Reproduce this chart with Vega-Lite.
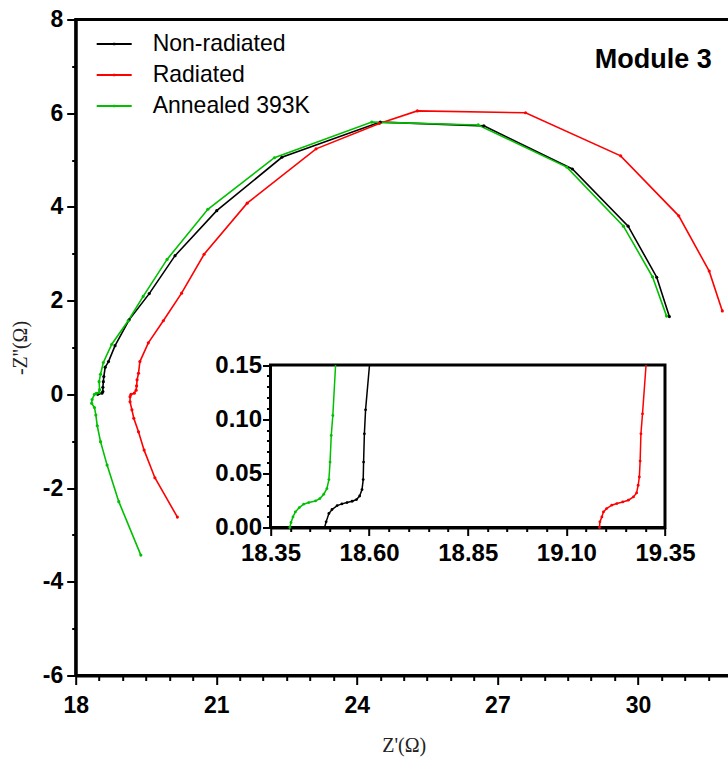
{
  "$schema": "https://vega.github.io/schema/vega-lite/v6.json",
  "width": 656,
  "height": 656,
  "autosize": {"type": "none"},
  "padding": {"left": 75.7, "top": 19.5, "right": 0, "bottom": 81.5},
  "background": "white",
  "title": {
    "text": "Module 3",
    "anchor": "end",
    "orient": "top",
    "frame": "group",
    "baseline": "top",
    "offset": 0,
    "dx": -20,
    "dy": 65,
    "font": "Liberation Sans",
    "fontSize": 27,
    "fontWeight": "bold",
    "color": "black"
  },
  "config": {
    "view": {"stroke": "black", "strokeWidth": 3},
    "axis": {"grid": false, "domainColor": "black", "tickColor": "black", "labelColor": "black", "labelOverlap": false, "labelFlush": false}
  },
  "datasets": {
    "main": [
      {"s": "Non-radiated", "i": 1, "x": 18.47, "y": 0.0},
      {"s": "Non-radiated", "i": 2, "x": 18.5, "y": 0.02},
      {"s": "Non-radiated", "i": 3, "x": 18.56, "y": 0.025},
      {"s": "Non-radiated", "i": 4, "x": 18.58, "y": 0.06},
      {"s": "Non-radiated", "i": 5, "x": 18.58, "y": 0.15},
      {"s": "Non-radiated", "i": 6, "x": 18.59, "y": 0.27},
      {"s": "Non-radiated", "i": 7, "x": 18.6, "y": 0.38},
      {"s": "Non-radiated", "i": 8, "x": 18.63, "y": 0.58},
      {"s": "Non-radiated", "i": 9, "x": 18.7, "y": 0.7},
      {"s": "Non-radiated", "i": 10, "x": 18.84, "y": 1.04},
      {"s": "Non-radiated", "i": 11, "x": 19.14, "y": 1.59},
      {"s": "Non-radiated", "i": 12, "x": 19.57, "y": 2.15},
      {"s": "Non-radiated", "i": 13, "x": 20.12, "y": 2.96},
      {"s": "Non-radiated", "i": 14, "x": 21.01, "y": 3.92},
      {"s": "Non-radiated", "i": 15, "x": 22.4, "y": 5.06},
      {"s": "Non-radiated", "i": 16, "x": 24.5, "y": 5.81},
      {"s": "Non-radiated", "i": 17, "x": 26.71, "y": 5.73},
      {"s": "Non-radiated", "i": 18, "x": 28.6, "y": 4.81},
      {"s": "Non-radiated", "i": 19, "x": 29.79, "y": 3.59},
      {"s": "Non-radiated", "i": 20, "x": 30.4, "y": 2.5},
      {"s": "Non-radiated", "i": 21, "x": 30.67, "y": 1.66},

      {"s": "Radiated", "i": 1, "x": 20.17, "y": -2.62},
      {"s": "Radiated", "i": 2, "x": 19.69, "y": -1.78},
      {"s": "Radiated", "i": 3, "x": 19.46, "y": -1.19},
      {"s": "Radiated", "i": 4, "x": 19.34, "y": -0.8},
      {"s": "Radiated", "i": 5, "x": 19.24, "y": -0.51},
      {"s": "Radiated", "i": 6, "x": 19.2, "y": -0.33},
      {"s": "Radiated", "i": 7, "x": 19.16, "y": -0.16},
      {"s": "Radiated", "i": 8, "x": 19.16, "y": -0.05},
      {"s": "Radiated", "i": 9, "x": 19.18, "y": 0.0},
      {"s": "Radiated", "i": 10, "x": 19.25, "y": 0.025},
      {"s": "Radiated", "i": 11, "x": 19.29, "y": 0.09},
      {"s": "Radiated", "i": 12, "x": 19.3, "y": 0.18},
      {"s": "Radiated", "i": 13, "x": 19.31, "y": 0.31},
      {"s": "Radiated", "i": 14, "x": 19.34, "y": 0.45},
      {"s": "Radiated", "i": 15, "x": 19.37, "y": 0.7},
      {"s": "Radiated", "i": 16, "x": 19.55, "y": 1.1},
      {"s": "Radiated", "i": 17, "x": 19.87, "y": 1.57},
      {"s": "Radiated", "i": 18, "x": 20.26, "y": 2.16},
      {"s": "Radiated", "i": 19, "x": 20.74, "y": 2.99},
      {"s": "Radiated", "i": 20, "x": 21.66, "y": 4.08},
      {"s": "Radiated", "i": 21, "x": 23.13, "y": 5.24},
      {"s": "Radiated", "i": 22, "x": 24.48, "y": 5.78},
      {"s": "Radiated", "i": 23, "x": 25.29, "y": 6.05},
      {"s": "Radiated", "i": 24, "x": 27.6, "y": 6.01},
      {"s": "Radiated", "i": 25, "x": 29.63, "y": 5.09},
      {"s": "Radiated", "i": 26, "x": 30.87, "y": 3.81},
      {"s": "Radiated", "i": 27, "x": 31.52, "y": 2.63},
      {"s": "Radiated", "i": 28, "x": 31.8, "y": 1.78},

      {"s": "Annealed 393K", "i": 1, "x": 19.39, "y": -3.43},
      {"s": "Annealed 393K", "i": 2, "x": 18.92, "y": -2.29},
      {"s": "Annealed 393K", "i": 3, "x": 18.67, "y": -1.51},
      {"s": "Annealed 393K", "i": 4, "x": 18.53, "y": -1.01},
      {"s": "Annealed 393K", "i": 5, "x": 18.46, "y": -0.67},
      {"s": "Annealed 393K", "i": 6, "x": 18.43, "y": -0.44},
      {"s": "Annealed 393K", "i": 7, "x": 18.4, "y": -0.28},
      {"s": "Annealed 393K", "i": 8, "x": 18.34, "y": -0.19},
      {"s": "Annealed 393K", "i": 9, "x": 18.35, "y": -0.11},
      {"s": "Annealed 393K", "i": 10, "x": 18.4, "y": 0.0},
      {"s": "Annealed 393K", "i": 11, "x": 18.44, "y": 0.02},
      {"s": "Annealed 393K", "i": 12, "x": 18.5, "y": 0.04},
      {"s": "Annealed 393K", "i": 13, "x": 18.51, "y": 0.1},
      {"s": "Annealed 393K", "i": 14, "x": 18.5, "y": 0.27},
      {"s": "Annealed 393K", "i": 15, "x": 18.53, "y": 0.43},
      {"s": "Annealed 393K", "i": 16, "x": 18.59, "y": 0.68},
      {"s": "Annealed 393K", "i": 17, "x": 18.77, "y": 1.07},
      {"s": "Annealed 393K", "i": 18, "x": 19.12, "y": 1.57},
      {"s": "Annealed 393K", "i": 19, "x": 19.44, "y": 2.09},
      {"s": "Annealed 393K", "i": 20, "x": 19.95, "y": 2.88},
      {"s": "Annealed 393K", "i": 21, "x": 20.82, "y": 3.95},
      {"s": "Annealed 393K", "i": 22, "x": 22.24, "y": 5.05},
      {"s": "Annealed 393K", "i": 23, "x": 24.32, "y": 5.81},
      {"s": "Annealed 393K", "i": 24, "x": 26.59, "y": 5.75},
      {"s": "Annealed 393K", "i": 25, "x": 28.48, "y": 4.85},
      {"s": "Annealed 393K", "i": 26, "x": 29.69, "y": 3.59},
      {"s": "Annealed 393K", "i": 27, "x": 30.31, "y": 2.51},
      {"s": "Annealed 393K", "i": 28, "x": 30.61, "y": 1.67}
    ],
    "inset": [
      {"s": "Annealed 393K", "i": 1, "x": 18.399, "y": 0.0},
      {"s": "Annealed 393K", "i": 2, "x": 18.402, "y": 0.0046},
      {"s": "Annealed 393K", "i": 3, "x": 18.407, "y": 0.0098},
      {"s": "Annealed 393K", "i": 4, "x": 18.413, "y": 0.0144},
      {"s": "Annealed 393K", "i": 5, "x": 18.423, "y": 0.0184},
      {"s": "Annealed 393K", "i": 6, "x": 18.434, "y": 0.0215},
      {"s": "Annealed 393K", "i": 7, "x": 18.447, "y": 0.023},
      {"s": "Annealed 393K", "i": 8, "x": 18.464, "y": 0.0245},
      {"s": "Annealed 393K", "i": 9, "x": 18.475, "y": 0.0267},
      {"s": "Annealed 393K", "i": 10, "x": 18.485, "y": 0.0307},
      {"s": "Annealed 393K", "i": 11, "x": 18.493, "y": 0.0359},
      {"s": "Annealed 393K", "i": 12, "x": 18.498, "y": 0.0442},
      {"s": "Annealed 393K", "i": 13, "x": 18.501, "y": 0.0604},
      {"s": "Annealed 393K", "i": 14, "x": 18.504, "y": 0.085},
      {"s": "Annealed 393K", "i": 15, "x": 18.508, "y": 0.1034},
      {"s": "Annealed 393K", "i": 16, "x": 18.515, "y": 0.15},

      {"s": "Non-radiated", "i": 1, "x": 18.487, "y": 0.0},
      {"s": "Non-radiated", "i": 2, "x": 18.491, "y": 0.0052},
      {"s": "Non-radiated", "i": 3, "x": 18.498, "y": 0.0129},
      {"s": "Non-radiated", "i": 4, "x": 18.506, "y": 0.0166},
      {"s": "Non-radiated", "i": 5, "x": 18.519, "y": 0.0202},
      {"s": "Non-radiated", "i": 6, "x": 18.531, "y": 0.0218},
      {"s": "Non-radiated", "i": 7, "x": 18.544, "y": 0.023},
      {"s": "Non-radiated", "i": 8, "x": 18.557, "y": 0.0242},
      {"s": "Non-radiated", "i": 9, "x": 18.568, "y": 0.0258},
      {"s": "Non-radiated", "i": 10, "x": 18.576, "y": 0.0291},
      {"s": "Non-radiated", "i": 11, "x": 18.582, "y": 0.035},
      {"s": "Non-radiated", "i": 12, "x": 18.585, "y": 0.0442},
      {"s": "Non-radiated", "i": 13, "x": 18.586, "y": 0.0604},
      {"s": "Non-radiated", "i": 14, "x": 18.588, "y": 0.0865},
      {"s": "Non-radiated", "i": 15, "x": 18.591, "y": 0.1086},
      {"s": "Non-radiated", "i": 16, "x": 18.601, "y": 0.15},

      {"s": "Radiated", "i": 1, "x": 19.184, "y": 0.0},
      {"s": "Radiated", "i": 2, "x": 19.185, "y": 0.0052},
      {"s": "Radiated", "i": 3, "x": 19.19, "y": 0.0098},
      {"s": "Radiated", "i": 4, "x": 19.194, "y": 0.0144},
      {"s": "Radiated", "i": 5, "x": 19.202, "y": 0.0175},
      {"s": "Radiated", "i": 6, "x": 19.215, "y": 0.0206},
      {"s": "Radiated", "i": 7, "x": 19.228, "y": 0.0221},
      {"s": "Radiated", "i": 8, "x": 19.243, "y": 0.0236},
      {"s": "Radiated", "i": 9, "x": 19.257, "y": 0.0252},
      {"s": "Radiated", "i": 10, "x": 19.27, "y": 0.0282},
      {"s": "Radiated", "i": 11, "x": 19.278, "y": 0.0319},
      {"s": "Radiated", "i": 12, "x": 19.282, "y": 0.039},
      {"s": "Radiated", "i": 13, "x": 19.285, "y": 0.0466},
      {"s": "Radiated", "i": 14, "x": 19.287, "y": 0.0613},
      {"s": "Radiated", "i": 15, "x": 19.289, "y": 0.0865},
      {"s": "Radiated", "i": 16, "x": 19.293, "y": 0.1049},
      {"s": "Radiated", "i": 17, "x": 19.302, "y": 0.15}
    ],
    "frame": [
      {"x": 18.35, "x2": 19.35, "y": 0, "y2": 0.15}
    ]
  },
  "layer": [
    {
      "data": {"name": "main"},
      "mark": {"type": "line", "strokeWidth": 1.6, "point": {"filled": true, "size": 10}},
      "encoding": {
        "x": {
          "field": "x", "type": "quantitative",
          "scale": {"domain": [18, 32], "nice": false, "zero": false},
          "axis": {
            "orient": "bottom",
            "title": "Z'(Ω)",
            "titleFont": "Liberation Serif", "titleFontWeight": "normal", "titleFontSize": 20, "titleColor": "#222", "titlePadding": 18,
            "values": [18, 18.5, 19, 19.5, 20, 20.5, 21, 21.5, 22, 22.5, 23, 23.5, 24, 24.5, 25, 25.5, 26, 26.5, 27, 27.5, 28, 28.5, 29, 29.5, 30, 30.5, 31, 31.5, 32],
            "labelExpr": "datum.value % 3 === 0 ? toString(datum.value) : ''",
            "labelOverlap": false,
            "tickSize": {"condition": {"test": "datum.value % 3 === 0", "value": 9}, "value": 5},
            "tickWidth": 2, "domainWidth": 3,
            "labelFont": "Liberation Sans", "labelFontWeight": "bold", "labelFontSize": 23, "labelPadding": 10
          }
        },
        "y": {
          "field": "y", "type": "quantitative",
          "scale": {"domain": [-6, 8], "nice": false, "zero": false},
          "axis": {
            "orient": "left",
            "title": "-Z''(Ω)",
            "titleFont": "Liberation Serif", "titleFontWeight": "normal", "titleFontSize": 20, "titleColor": "#222", "titlePadding": 12,
            "values": [-6, -5, -4, -3, -2, -1, 0, 1, 2, 3, 4, 5, 6, 7, 8],
            "labelExpr": "datum.value % 2 === 0 ? toString(datum.value) : ''",
            "labelOverlap": false,
            "tickSize": {"condition": {"test": "datum.value % 2 === 0", "value": 9}, "value": 4},
            "tickWidth": 2, "domainWidth": 3,
            "labelFont": "Liberation Sans", "labelFontWeight": "bold", "labelFontSize": 23, "labelPadding": 4
          }
        },
        "color": {
          "field": "s", "type": "nominal",
          "scale": {"domain": ["Non-radiated", "Radiated", "Annealed 393K"], "range": ["#000000", "#ff0000", "#00c000"]},
          "legend": {
            "orient": "none", "legendX": 20, "legendY": 6, "title": null, "padding": 0,
            "symbolType": "M-1,0H1M0,-0.07V0.07", "symbolSize": 1225, "symbolStrokeWidth": 2,
            "labelFont": "Liberation Sans", "labelFontSize": 23, "labelColor": "black", "labelOffset": 20, "rowPadding": -5.4
          }
        },
        "order": {"field": "i", "type": "quantitative"}
      }
    },
    {
      "layer": [
        {
          "data": {"name": "frame"},
          "mark": {"type": "rect", "fill": "white", "stroke": "black", "strokeWidth": 3},
          "encoding": {
            "x": {
              "field": "x", "type": "quantitative",
              "scale": {"domain": [18.35, 19.35], "range": [194.8, 589.3], "nice": false, "zero": false},
              "axis": {
                "orient": "bottom", "offset": -148, "title": null,
                "values": [18.35, 18.6, 18.85, 19.1, 19.35],
                "format": ".2f",
                "labelOverlap": false,
                "tickSize": 8,
                "tickWidth": 2, "domainWidth": 3,
                "labelFont": "Liberation Sans", "labelFontWeight": "bold", "labelFontSize": 24, "labelPadding": 6
              }
            },
            "x2": {"field": "x2"},
            "y": {
              "field": "y", "type": "quantitative",
              "scale": {"domain": [0, 0.15], "range": [508, 345.5], "nice": false, "zero": false},
              "axis": {
                "orient": "left", "offset": -194.8, "title": null,
                "values": [0, 0.05, 0.1, 0.15],
                "format": ".2f",
                "labelOverlap": false,
                "tickSize": 8,
                "tickWidth": 2, "domainWidth": 3,
                "labelFont": "Liberation Sans", "labelFontWeight": "bold", "labelFontSize": 24, "labelPadding": 1
              }
            },
            "y2": {"field": "y2"}
          }
        },
        {
          "data": {"name": "inset"},
          "mark": {"type": "line", "strokeWidth": 1.5},
          "encoding": {
            "x": {"field": "x", "type": "quantitative", "axis": null},
            "y": {"field": "y", "type": "quantitative", "axis": null},
            "color": {"field": "s", "type": "nominal"},
            "order": {"field": "i", "type": "quantitative"}
          }
        },
        {
          "data": {"name": "inset"},
          "transform": [{"filter": "datum.y < 0.15"}],
          "mark": {"type": "point", "filled": true, "size": 8, "opacity": 1},
          "encoding": {
            "x": {
              "field": "x", "type": "quantitative",
              "axis": {
                "orient": "bottom", "offset": -148, "title": null,
                "values": [18.4, 18.45, 18.5, 18.55, 18.65, 18.7, 18.75, 18.8, 18.9, 18.95, 19, 19.05, 19.15, 19.2, 19.25, 19.3],
                "labels": false, "domain": false, "tickSize": 4, "tickWidth": 2
              }
            },
            "y": {
              "field": "y", "type": "quantitative",
              "axis": {
                "orient": "left", "offset": -194.8, "title": null,
                "values": [0.01, 0.02, 0.03, 0.04, 0.06, 0.07, 0.08, 0.09, 0.11, 0.12, 0.13, 0.14],
                "labels": false, "domain": false, "tickSize": 4, "tickWidth": 2
              }
            },
            "color": {"field": "s", "type": "nominal"}
          }
        }
      ],
      "resolve": {"axis": {"x": "independent", "y": "independent"}}
    }
  ],
  "resolve": {
    "scale": {"x": "independent", "y": "independent", "color": "shared"},
    "axis": {"x": "independent", "y": "independent"}
  }
}
